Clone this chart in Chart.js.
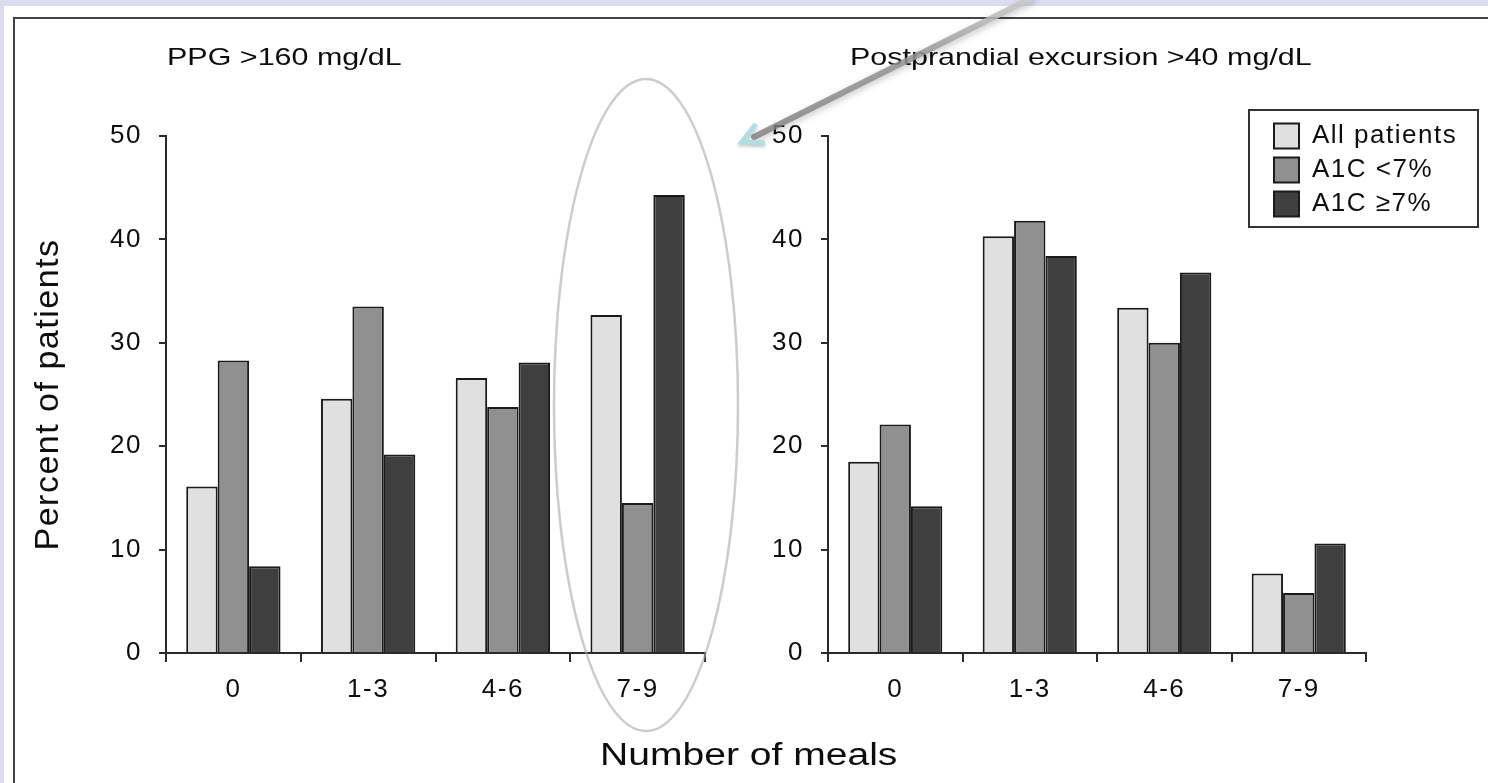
<!DOCTYPE html>
<html>
<head>
<meta charset="utf-8">
<script src="https://cdn.jsdelivr.net/npm/chart.js@4.4.1/dist/chart.umd.min.js"></script>
<style>
  html, body { margin: 0; padding: 0; }
  body {
    width: 1488px; height: 783px; overflow: hidden; position: relative;
    background: #dcdcf0; color: #0d0d0d;
    font-family: "Liberation Sans", Arial, Helvetica, sans-serif;
  }
  #sheet { position: absolute; left: 4px; top: 6px; right: 0; bottom: 0; background: #fff; }
  #frame {
    position: absolute; left: 13px; top: 17px; width: 1600px; height: 900px;
    border-left: 2px solid #444; border-top: 2px solid #444; box-sizing: border-box;
  }
  canvas { position: absolute; top: 0; }
  #leftChart { left: 20px; }
  #rightChart { left: 740px; }
  .title {
    position: absolute; top: 45px; font-size: 24px; line-height: 24px;
    white-space: nowrap; transform: scaleX(1.27); transform-origin: 0 0;
  }
  #xlabel {
    position: absolute; top: 739px; left: 600px;
    font-size: 31px; line-height: 31px; white-space: nowrap;
    transform: scaleX(1.26); transform-origin: 0 0;
  }
  #overlay { position: absolute; left: 0; top: 0; pointer-events: none; }
</style>
</head>
<body>
<div id="sheet"></div>
<div id="frame"></div>
<canvas id="leftChart" width="700" height="783"></canvas>
<canvas id="rightChart" width="748" height="783"></canvas>
<div class="title" id="leftTitle" style="left:167px"></div>
<div class="title" id="rightTitle" style="left:850px"></div>
<div id="xlabel"></div>
<canvas id="overlay" width="1488" height="783"></canvas>

<script>
// data
const categories = ['0', '1-3', '4-6', '7-9'];
const seriesNames = ['All patients', 'A1C <7%', 'A1C \u22657%'];
const seriesColors = ['#e0e0e0', '#909090', '#3f3f3f'];

const ppgAll    = [16.1, 24.6, 26.6, 32.7];
const ppgBelow7 = [28.3, 33.5, 23.8, 14.5];
const ppgAbove7 = [8.4, 19.2, 28.1, 44.3];

const excAll    = [18.5, 40.3, 33.4, 7.7];
const excBelow7 = [22.1, 41.8, 30.0, 5.8];
const excAbove7 = [14.2, 38.4, 36.8, 10.6];

const yMin = 0, yMax = 50, yStep = 10;
const panelTitles = ['PPG >160 mg/dL', 'Postprandial excursion >40 mg/dL'];
const yTitle = 'Percent of patients';
const xTitle = 'Number of meals';

document.getElementById('leftTitle').textContent = panelTitles[0];
document.getElementById('rightTitle').textContent = panelTitles[1];
document.getElementById('xlabel').textContent = xTitle;

const ink = '#0d0d0d';
const axisColor = '#2a2a2a';
const fontFamily = '"Liberation Sans", Arial, sans-serif';

// wider glyph spacing, like the original typesetting
const spacing = {
  id: 'spacing',
  beforeUpdate(chart) { chart.ctx.letterSpacing = '1.5px'; },
  beforeDraw(chart) { chart.ctx.letterSpacing = '1.5px'; }
};

// legend sits in a box above the right plot's top edge
const legendFrame = { x: 509, y: 110, w: 229, h: 117 };
const legendBox = {
  id: 'legendBox',
  afterLayout(chart) {
    const lg = chart.legend;
    if (!lg || !lg.options.display) return;
    lg.left = legendFrame.x + 17;
    lg.top = legendFrame.y + 5;
    lg.right = legendFrame.x + legendFrame.w;
    lg.bottom = legendFrame.y + legendFrame.h;
    lg.width = lg.right - lg.left;
    lg.height = lg.bottom - lg.top;
  },
  afterDraw(chart) {
    if (!chart.legend || !chart.legend.options.display) return;
    const ctx = chart.ctx;
    ctx.save();
    ctx.strokeStyle = '#333';
    ctx.lineWidth = 2;
    ctx.strokeRect(legendFrame.x, legendFrame.y, legendFrame.w, legendFrame.h);
    ctx.restore();
  }
};

function makeDatasets(a, b, c) {
  return [a, b, c].map((values, i) => ({
    label: seriesNames[i],
    data: values,
    backgroundColor: seriesColors[i],
    borderColor: '#1a1a1a',
    borderWidth: 2,
    categoryPercentage: 0.7,
    barPercentage: 1.0
  }));
}

function makeOptions(yAxisWidth, padRight, showYTitle, showLegend) {
  return {
    responsive: false,
    animation: false,
    layout: { padding: { top: 136, left: 0, right: padRight, bottom: 0 } },
    plugins: {
      legend: {
        display: showLegend,
        position: 'chartArea',
        align: 'start',
        labels: {
          boxWidth: 25,
          boxHeight: 25,
          padding: 8,
          color: ink,
          font: { family: fontFamily, size: 26 }
        }
      },
      tooltip: { enabled: false },
      title: { display: false }
    },
    scales: {
      x: {
        type: 'category',
        labels: categories,
        offset: true,
        grid: {
          offset: true,
          drawOnChartArea: false,
          drawTicks: true,
          tickLength: 9,
          color: axisColor,
          lineWidth: 2
        },
        border: { display: true, color: axisColor, width: 2 },
        ticks: {
          color: ink,
          padding: 12,
          font: { family: fontFamily, size: 26 }
        },
        afterFit(scale) { scale.height = 130; }
      },
      y: {
        min: yMin,
        max: yMax,
        grid: {
          drawOnChartArea: false,
          drawTicks: true,
          tickLength: 7,
          color: axisColor,
          lineWidth: 2
        },
        border: { display: true, color: axisColor, width: 2 },
        ticks: {
          stepSize: yStep,
          color: ink,
          padding: 17,
          font: { family: fontFamily, size: 26 }
        },
        title: {
          display: showYTitle,
          text: yTitle,
          color: ink,
          padding: { top: 8, bottom: 0 },
          font: { family: fontFamily, size: 34 }
        },
        afterFit(scale) { scale.width = yAxisWidth; }
      }
    }
  };
}

new Chart(document.getElementById('leftChart'), {
  type: 'bar',
  data: { labels: categories, datasets: makeDatasets(ppgAll, ppgBelow7, ppgAbove7) },
  options: makeOptions(146, 15, true, false),
  plugins: [spacing]
});

new Chart(document.getElementById('rightChart'), {
  type: 'bar',
  data: { labels: categories, datasets: makeDatasets(excAll, excBelow7, excAbove7) },
  options: makeOptions(88, 122, false, true),
  plugins: [spacing, legendBox]
});

// hand-drawn annotation: ellipse around the 7-9 group and an arrow into the right panel
const ov = document.getElementById('overlay').getContext('2d');
ov.save();
ov.strokeStyle = 'rgba(170,170,170,0.6)';
ov.lineWidth = 2.5;
ov.beginPath();
ov.ellipse(646, 405, 92, 326, 0, 0, Math.PI * 2);
ov.stroke();
ov.restore();

ov.save();
const grad = ov.createLinearGradient(1032, -2, 752, 138);
grad.addColorStop(0, 'rgba(205,205,205,0.85)');
grad.addColorStop(0.4, 'rgba(150,150,150,0.85)');
grad.addColorStop(1, 'rgba(125,125,125,0.8)');
ov.strokeStyle = grad;
ov.lineWidth = 6;
ov.lineCap = 'round';
ov.shadowColor = 'rgba(0,0,0,0.25)';
ov.shadowBlur = 6;
ov.shadowOffsetY = 3;
ov.beginPath();
ov.moveTo(1032, -2);
ov.lineTo(754, 137);
ov.stroke();
ov.restore();

ov.save();
ov.strokeStyle = '#b3dde1';
ov.lineWidth = 5;
ov.lineJoin = 'miter';
ov.shadowColor = 'rgba(0,0,0,0.2)';
ov.shadowBlur = 3;
ov.shadowOffsetY = 2;
ov.beginPath();
ov.moveTo(756, 124);
ov.lineTo(742, 142);
ov.lineTo(765, 143);
ov.stroke();
ov.restore();
</script>
</body>
</html>
